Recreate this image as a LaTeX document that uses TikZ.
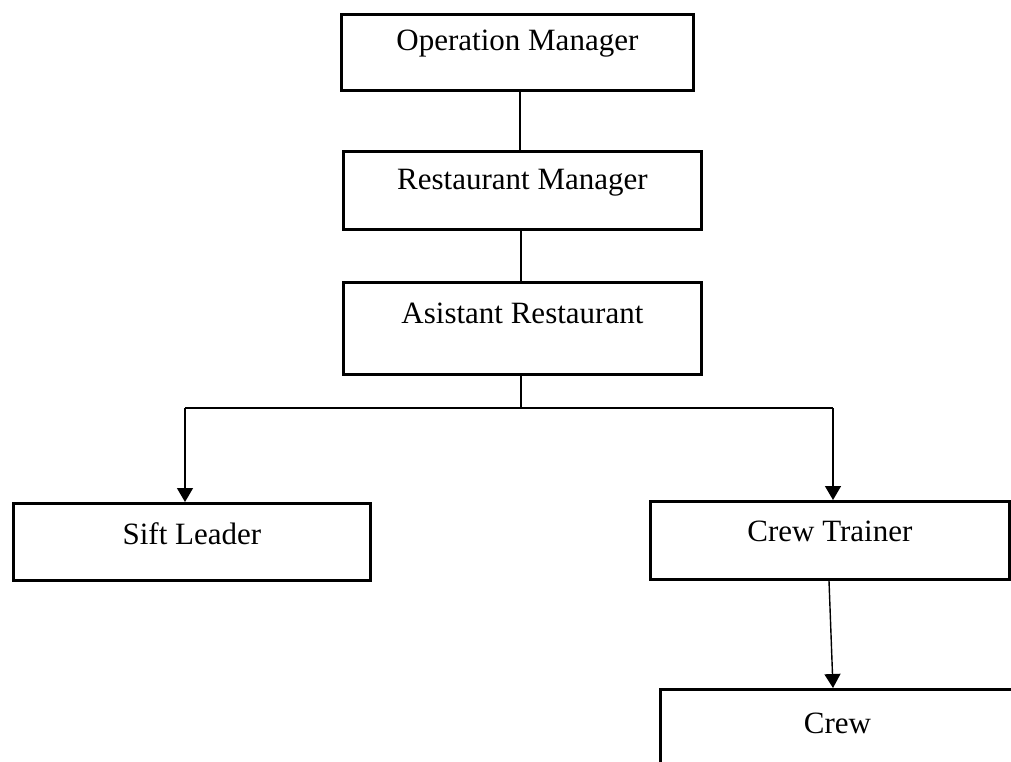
\documentclass[tikz,border=0pt]{standalone}
\usepackage{fontspec}
\setmainfont{Liberation Serif}
\usetikzlibrary{arrows.meta,calc}
\begin{document}
\begin{tikzpicture}[x=1pt,y=-1pt,
  box/.style={draw, line width=2.8pt, rectangle, inner sep=0pt, anchor=north west},
  lbl/.style={font=\fontsize{31}{37}\selectfont, inner sep=0pt},
  conn/.style={line width=1.4pt},
  arr/.style={conn, -{Triangle[length=14pt,width=16pt]}}]
\path[use as bounding box, clip] (0,0) rectangle (1011,762);
% boxes
\node[box, minimum width=352pt, minimum height=76pt] (op) at (340,13) {};
\node[box, minimum width=358pt, minimum height=78pt] (rm) at (342,150) {};
\node[box, minimum width=358pt, minimum height=92pt] (ar) at (342,281) {};
\node[box, minimum width=357pt, minimum height=77pt] (sl) at (12,502) {};
\node[box, minimum width=359pt, minimum height=78pt] (ct) at (649,500) {};
\node[box, minimum width=354pt, minimum height=80pt] (cr) at (659,688) {};
% labels
\node[lbl] (opt) at ($(op.north)+(0,31)$) {Operation Manager};
\node[lbl] (rmt) at ($(rm.north)+(0,33)$) {Restaurant Manager};
\node[lbl] (art) at ($(ar.north)+(0,32)$) {Asistant Restaurant};
\node[lbl] (slt) at ($(sl.north)+(0,32)$) {Sift Leader};
\node[lbl] (ctt) at ($(ct.north)+(0,31)$) {Crew Trainer};
\node[lbl] (crt) at ($(cr.north)+(0,35)$) {Crew};
% connectors
\coordinate (j) at (521,408);
\coordinate (jl) at (185,408);
\coordinate (jr) at (833,408);
\draw[conn] (rm.north -| 520,0) -- (op.south -| 520,0);
\draw[conn] (rm.south -| 521,0) -- (ar.north -| 521,0);
\draw[conn] (ar.south -| j) -- (j);
\draw[conn] (jl) -- (jr);
\draw[arr] (jl) -- (sl.north -| jl);
\draw[arr] (jr) -- (ct.north -| jr);
\draw[arr] (ct.south -| 829,0) -- (cr.north -| 833,0);
\end{tikzpicture}
\end{document}
